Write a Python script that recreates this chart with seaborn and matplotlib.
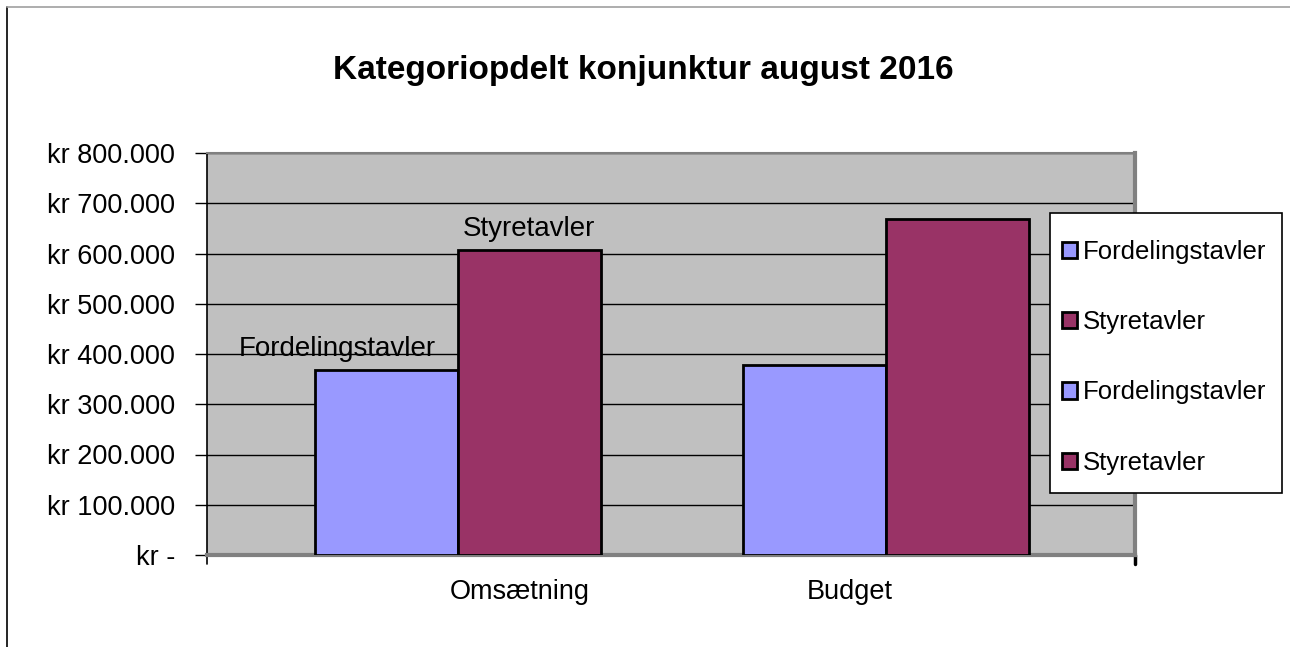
import matplotlib
matplotlib.use('Agg')
import matplotlib.pyplot as plt
import matplotlib.transforms as mtransforms
from matplotlib.patches import Patch, Rectangle
from matplotlib.lines import Line2D
import seaborn as sns
import pandas as pd

############### data
categories = ['Omsætning', 'Budget']
series = ['Fordelingstavler', 'Styretavler']
fordeling = [368000, 378000]
styre = [607000, 669000]
yticks = [0, 100000, 200000, 300000, 400000, 500000, 600000, 700000, 800000]
title = 'Kategoriopdelt konjunktur august 2016'

colors = ['#9999FF', '#993366']

df = pd.DataFrame({
    'kategori': categories * 2,
    'serie': [series[0]] * 2 + [series[1]] * 2,
    'vaerdi': fordeling + styre,
})

sns.set_style('white')
plt.rcParams['font.family'] = ['Liberation Sans', 'DejaVu Sans']
plt.rcParams['text.color'] = 'black'
plt.rcParams['xtick.color'] = 'black'
plt.rcParams['ytick.color'] = 'black'

W, H = 1290, 647
fig = plt.figure(figsize=(W / 100, H / 100), dpi=100)
ax = fig.add_axes([207 / W, 1 - 555 / H, 928 / W, 402 / H])
ax.set_facecolor('#C0C0C0')

sns.barplot(data=df, x='kategori', y='vaerdi', hue='serie', palette=colors,
            width=0.668, edgecolor='black', linewidth=2.0, saturation=1,
            legend=False, ax=ax, zorder=3)

ax.set_ylim(0, 800000)
ax.set_xlim(-0.586, 1.582)
ax.set_yticks(yticks)
ax.set_yticklabels(['kr -'] + ['kr {:,}'.format(v).replace(',', '.') for v in yticks[1:]])
ax.yaxis.grid(True, color='black', linewidth=1.0, zorder=1)
ax.set_axisbelow(True)
ax.tick_params(axis='y', length=9, width=1, color='black', labelsize=19.5, pad=14, left=True)
ax.set_xlabel('')
ax.set_ylabel('')

# category labels, shifted as in the source chart
ax.set_xticks([0, 1])
ax.set_xticklabels(categories, fontsize=19.5)
ax.tick_params(axis='x', length=0, pad=17)
shifts = [62, -36]
for lab, dx in zip(ax.get_xticklabels(), shifts):
    lab.set_transform(lab.get_transform() + mtransforms.ScaledTranslation(dx / 100, 0, fig.dpi_scale_trans))

for side in ['top', 'right', 'bottom']:
    ax.spines[side].set_color('#808080')
    ax.spines[side].set_linewidth(3)
ax.spines['top'].set_linewidth(1.5)
ax.spines['left'].set_color('black')
ax.spines['left'].set_linewidth(1.2)

# small tick marks at both ends of category axis
for xx in [0, 1]:
    ax.add_line(Line2D([xx, xx], [0, -0.022], transform=ax.transAxes, color='black',
                       linewidth=1.2 if xx == 0 else 2.5, clip_on=False))

# data labels on the first category
ax.annotate(series[0], (0 - 0.167, fordeling[0]), xytext=(-35, 6), textcoords='offset points',
            ha='center', va='bottom', fontsize=20, zorder=5)
ax.annotate(series[1], (0 + 0.167, styre[0]), xytext=(0, 6), textcoords='offset points',
            ha='center', va='bottom', fontsize=20, zorder=5)

fig.suptitle(title, x=643 / W, y=1 - 70 / H, va='center', fontsize=24, fontweight='bold')

# legend box drawn by hand, legend entries inside it
fig.add_artist(Rectangle((1050 / W, 1 - 493 / H), 232 / W, 280 / H, transform=fig.transFigure,
                         facecolor='white', edgecolor='black', linewidth=1.2, zorder=4))
handles = [Patch(facecolor=c, edgecolor='black', linewidth=2) for c in colors * 2]
leg = fig.legend(handles, series * 2, loc='upper left',
                 bbox_to_anchor=(1062 / W, 1 - 240 / H), fontsize=18.5,
                 frameon=False, handlelength=0.6, handleheight=0.6, handletextpad=0.2,
                 labelspacing=1.8, borderpad=0, borderaxespad=0)
leg.set_zorder(5)

# outer chart border
fig.add_artist(Line2D([7 / W, 7 / W], [0, 1 - 7 / H], transform=fig.transFigure,
                      color='black', linewidth=1.2))
fig.add_artist(Line2D([7 / W, 1], [1 - 7 / H, 1 - 7 / H], transform=fig.transFigure,
                      color='#A0A0A0', linewidth=1.2))

fig.savefig('out.png', dpi=100)
